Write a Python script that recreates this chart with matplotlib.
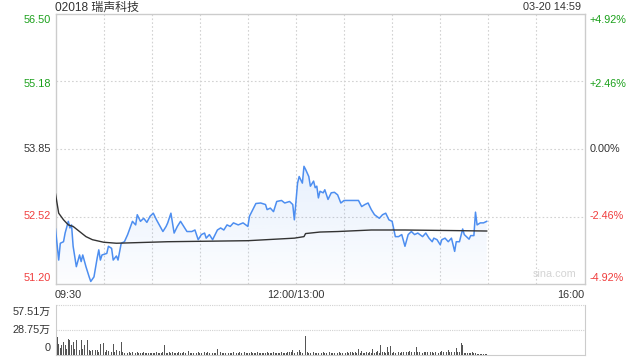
import matplotlib
matplotlib.use("Agg")
import matplotlib.pyplot as plt
import numpy as np
from matplotlib.patches import Polygon

plt.rcParams['font.family'] = ['Liberation Sans', 'Noto Sans CJK SC', 'DejaVu Sans']

title = "02018 瑞声科技"
stamp = "03-20 14:59"
prev_close = 53.85
price_ticks = [51.20, 52.52, 53.85, 55.18, 56.50]
pct_ticks = ["-4.92%", "-2.46%", "0.00%", "+2.46%", "+4.92%"]
time_ticks = ["09:30", "12:00/13:00", "16:00"]
vol_ticks = ["0", "28.75万", "57.51万"]
vol_max = 57.51

# minute index (0 = 09:30, 150 = 12:00/13:00, 330 = 16:00)
price_min = [0, 2, 3, 5, 6, 8, 9, 10, 11, 13, 15, 16, 17, 19, 21, 22, 24, 26, 27, 28,
             29, 32, 33, 35, 36, 38, 39, 40, 41, 43, 45, 48, 50, 51, 53, 55, 57, 59, 61, 63,
             67, 69, 70, 72, 74, 76, 78, 80, 82, 85, 87, 89, 91, 93, 94, 96, 98, 101, 103, 105,
             107, 109, 111, 114, 117, 120, 121, 125, 128, 131, 132, 134, 136, 138, 141, 143, 146, 148, 149, 151,
             152, 154, 155, 156, 158, 159, 161, 162, 163, 164, 165, 167, 168, 170, 172, 174, 176, 178, 180, 189,
             191, 193, 195, 197, 199, 202, 204, 206, 208, 210, 212, 214, 216, 218, 220, 222, 224, 226, 229, 231,
             233, 235, 236, 238, 240, 241, 243, 245, 247, 249, 250, 252, 254, 255, 258, 259, 261, 262, 263, 265,
             267, 269]
price = [52.28, 51.67, 52.00, 52.03, 52.20, 52.43, 52.30, 52.36, 51.94, 51.54, 51.77, 51.64, 51.77, 51.54, 51.34, 51.25, 51.34, 51.71, 51.87, 51.67,
         51.77, 51.80, 51.94, 51.90, 51.67, 51.75, 51.67, 51.84, 52.00, 52.03, 52.17, 52.43, 52.36, 52.56, 52.43, 52.49, 52.41, 52.53, 52.59, 52.46,
         52.23, 52.33, 52.40, 52.59, 52.20, 52.33, 52.43, 52.33, 52.23, 52.23, 52.26, 52.07, 52.17, 52.20, 52.10, 52.17, 52.07, 52.26, 52.30, 52.26,
         52.36, 52.33, 52.40, 52.36, 52.40, 52.33, 52.53, 52.78, 52.79, 52.76, 52.66, 52.69, 52.62, 52.82, 52.84, 52.79, 52.82, 52.76, 52.46, 53.18,
         53.31, 53.18, 53.51, 53.45, 53.31, 53.12, 53.22, 53.09, 53.12, 52.89, 53.02, 52.99, 53.05, 52.86, 52.99, 53.00, 52.95, 52.79, 52.84, 52.84,
         52.72, 52.76, 52.79, 52.66, 52.56, 52.49, 52.56, 52.59, 52.46, 52.43, 52.13, 52.13, 52.17, 51.94, 52.17, 52.23, 52.17, 52.20, 52.13, 52.20,
         52.10, 52.03, 52.10, 52.07, 51.97, 52.07, 52.10, 52.03, 52.10, 51.84, 52.03, 52.03, 52.28, 52.17, 52.08, 52.15, 52.15, 52.61, 52.36, 52.40,
         52.40, 52.43]

avg_min = [0, 2, 5, 8, 11, 15, 19, 23, 30, 38, 70, 120, 149, 155, 156, 165, 176, 197, 218, 245, 269]
avg_price = [52.97, 52.59, 52.46, 52.36, 52.33, 52.23, 52.13, 52.07, 52.02, 52.00, 52.03, 52.05, 52.10, 52.13,
             52.19, 52.22, 52.23, 52.26, 52.26, 52.25, 52.24]

# volume per minute (万), minutes 0..269
volume = [
    57.51, 20.0, 12.5, 7.0, 10.5, 14.5, 10.5, 6.0, 18.4, 16.4,
    10.5, 14.5, 6.0, 16.4, 9.0, 5.0, 17.2, 6.7, 10.5, 5.0,
    17.2, 5.7, 3.5, 4.7, 3.0, 4.7, 5.5, 3.0, 12.5, 5.5,
    13.3, 3.0, 4.7, 3.9, 4.7, 2.5, 12.5, 2.7, 4.7, 2.5,
    3.9, 14.5, 2.7, 2.2, 2.7, 1.8, 2.5, 1.6, 2.9, 1.5,
    2.0, 3.4, 1.7, 2.2, 1.5, 2.6, 1.9, 1.4, 2.3, 1.8,
    1.5, 2.1, 1.7, 2.8, 1.6, 2.0, 1.5, 2.4, 10.5, 2.2,
    1.8, 2.5, 1.6, 2.9, 1.7, 2.1, 1.5, 2.4, 1.8, 2.0,
    3.0, 1.6, 2.2, 4.0, 1.7, 2.3, 1.5, 2.0, 1.8, 2.6,
    1.5, 2.1, 1.9, 2.4, 1.6, 2.8, 1.7, 2.0, 1.5, 2.2,
    1.8, 6.7, 1.7, 2.5, 1.6, 2.0, 1.9, 2.3, 1.5, 2.1,
    1.8, 2.6, 1.6, 2.2, 1.7, 3.0, 1.5, 2.0, 2.4, 1.8,
    2.2, 1.6, 2.5, 1.9, 2.0, 1.6, 2.8, 1.7, 2.1, 1.5,
    2.3, 1.8, 2.6, 1.6, 2.0, 1.9, 2.4, 1.7, 2.2, 1.6,
    2.0, 2.5, 1.8, 2.3, 1.9, 3.0, 2.6, 3.4, 4.7, 2.2,
    2.0, 3.0, 5.7, 2.5, 2.2, 2.0, 21.0, 2.4, 1.9, 2.2,
    1.8, 2.6, 1.7, 2.3, 1.9, 2.0, 1.6, 2.8, 1.8, 2.2,
    1.9, 2.5, 1.6, 2.1, 1.8, 2.4, 1.7, 2.6, 2.0, 2.2,
    5.5, 1.9, 2.4, 2.0, 2.6, 3.2, 1.8, 2.5, 2.2, 6.7,
    2.0, 3.6, 2.3, 2.0, 2.4, 2.2, 3.0, 2.1, 6.7, 2.3,
    2.6, 3.8, 2.0, 10.5, 2.4, 3.0, 2.2, 8.6, 2.6, 9.4,
    2.3, 3.2, 2.0, 2.8, 2.4, 2.1, 3.0, 2.5, 2.2, 2.9,
    2.4, 3.5, 2.6, 2.2, 2.8, 8.6, 2.4, 3.4, 2.6, 2.3,
    2.9, 3.0, 2.5, 3.9, 2.4, 2.8, 2.2, 3.2, 2.6, 2.3,
    2.7, 3.9, 2.5, 2.2, 2.8, 4.7, 2.4, 3.0, 2.5, 2.6,
    7.8, 2.5, 2.8, 13.3, 10.5, 2.2, 1.8, 2.0, 1.6, 1.8,
    2.4, 1.5, 1.2, 1.0, 0.8, 0.5, 0.4, 0.3, 0.3, 0.2,
][:270]

W, H = 640, 360
fig = plt.figure(figsize=(6.4, 3.6), dpi=100)
fig.patch.set_facecolor('white')

def fx(px):
    return px / W

def fy(py):
    return 1 - py / H

L, R = 55.5, 584.5
ax = fig.add_axes([fx(L), fy(284), fx(R - L), fy(14) - fy(284)])
axv = fig.add_axes([fx(L), fy(354.5), fx(R - L), fy(305) - fy(354.5)])

green = '#1aa01a'
red = '#f03c3c'
dark = '#333333'
grid_c = '#d2d2d2'
spine_c = '#cccccc'
fs = 7.8

# ---- main panel ----
ax.set_xlim(0, 330)
ax.set_ylim(price_ticks[0], price_ticks[-1])
for s in ax.spines.values():
    s.set_color(spine_c)
    s.set_linewidth(1)
ax.set_xticks([])
ax.set_yticks([])
for m in range(30, 330, 30):
    ax.axvline(m, color=grid_c, lw=0.8, ls=(0, (1.5, 2)), zorder=0)
for p in price_ticks[1:-1]:
    ax.axhline(p, color=grid_c, lw=0.8, ls=(0, (1.5, 2)), zorder=0)

# gradient fill under price line
ymin, ymax = price_ticks[0], price_ticks[-1]
grad = np.linspace(0, 1, 256).reshape(-1, 1)
rgba = np.zeros((256, 1, 4))
rgba[..., 0] = 0x4d / 255
rgba[..., 1] = 0x8e / 255
rgba[..., 2] = 0xf0 / 255
rgba[..., 3] = 0.015 + 0.12 * grad
top = max(price)
im = ax.imshow(rgba, extent=[0, 330, ymin, top], origin='lower', aspect='auto', zorder=1)
verts = [(price_min[0], ymin)] + list(zip(price_min, price)) + [(price_min[-1], ymin)]
poly = Polygon(verts, closed=True, facecolor='none', edgecolor='none')
ax.add_patch(poly)
im.set_clip_path(poly)

ax.plot(price_min, price, color='#4d8ef0', lw=1.1, zorder=3)
ax.plot(avg_min, avg_price, color='#333333', lw=1.0, zorder=4)

ax.text(0.985, 0.02, "sina.com", transform=ax.transAxes, ha='right', va='bottom',
        color='#d4d4d4', fontsize=fs)

# y labels main
lab_y = [278, 216, 148.5, 84, 20]
for p, pc, yy in zip(price_ticks, pct_ticks, lab_y):
    if p > prev_close:
        c = green
    elif p < prev_close:
        c = red
    else:
        c = dark
    fig.text(fx(51), fy(yy), f"{p:.2f}", ha='right', va='center', color=c, fontsize=fs)
    fig.text(fx(590), fy(yy), pc, ha='left', va='center', color=c, fontsize=fs)

# x labels
fig.text(fx(55), fy(294.5), time_ticks[0], ha='left', va='center', color=dark, fontsize=fs)
fig.text(fx(55.5 + 150 * (R - L) / 330), fy(294.5), time_ticks[1], ha='center', va='center', color=dark, fontsize=fs)
fig.text(fx(584.5), fy(294.5), time_ticks[2], ha='right', va='center', color=dark, fontsize=fs)

# header
fig.text(fx(55), fy(7.5), title, ha='left', va='center', color=dark, fontsize=8.6)
fig.text(fx(581), fy(7.5), stamp, ha='right', va='center', color=dark, fontsize=fs)

# ---- volume panel ----
axv.set_xlim(0, 330)
axv.set_ylim(0, vol_max)
axv.set_xticks([])
axv.set_yticks([])
axv.spines['top'].set_visible(False)
for k in ['left', 'right', 'bottom']:
    axv.spines[k].set_color(spine_c)
axv.axhline(vol_max, color=grid_c, lw=0.8, ls=(0, (1, 1)), clip_on=False)
axv.axhline(vol_max / 2, color=grid_c, lw=0.8, ls=(0, (1, 1)))
axv.bar(np.arange(len(volume)), volume, width=0.55, color='#555555', zorder=3)

for t, yy in zip(vol_ticks, [348, 330, 312]):
    fig.text(fx(51), fy(yy), t, ha='right', va='center', color=dark, fontsize=fs)

fig.savefig("out.png", dpi=100, facecolor='white')
